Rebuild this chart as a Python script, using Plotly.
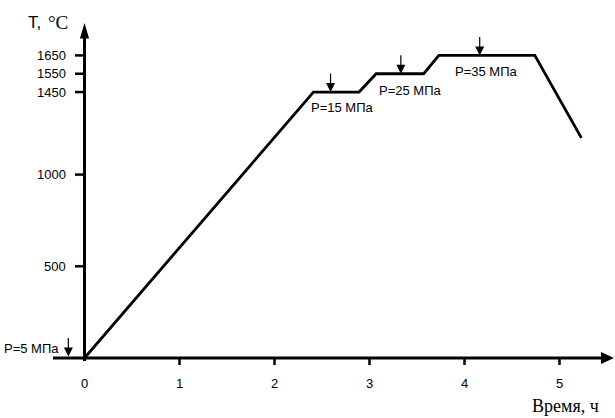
import plotly.graph_objects as go

# Heating schedule: time (h) vs temperature (°C)
time_h = [0, 2.41, 2.89, 3.07, 3.57, 3.73, 4.74, 5.23]
temp_c = [0, 1450, 1450, 1550, 1550, 1650, 1650, 1200]

# Pressure application points (arrow tips on the curve)
press_t = [-0.17, 2.59, 3.33, 4.16]
press_T = [0, 1450, 1550, 1650]
press_lbl = ["P=5 МПа", "P=15 МПа", "P=25 МПа", "P=35 МПа"]
# label anchor positions (time, temperature) for the pressure notes
lbl_t = [-0.245, 2.72, 3.43, 4.23]
lbl_T = [50, 1368, 1460, 1560]

x_ticks = [0, 1, 2, 3, 4, 5]
y_ticks = [500, 1000, 1450, 1550, 1650]

SANS = "Liberation Sans, Arial, sans-serif"
SERIF = "Liberation Serif, Times New Roman, serif"

# axis scale: 95 px per hour, 0.1834 px per °C (615x418 canvas)
PX_T = 95.0
PX_C = 0.1834
X0, Y0 = 84.5, 358.0
xr = [-X0 / PX_T, (615 - X0) / PX_T]
yr = [-(418 - Y0) / PX_C, Y0 / PX_C]

def dx(px):
    return px / PX_T

def dy(px):
    return px / PX_C

fig = go.Figure()

fig.add_trace(go.Scatter(x=time_h, y=temp_c, mode="lines",
                         line=dict(color="black", width=2.8),
                         hoverinfo="skip", showlegend=False))

shapes = []
# horizontal axis with arrow
x_left = -dx(X0 - 53)
x_tip = dx(614 - X0)
x_base = dx(601 - X0)
shapes.append(dict(type="line", x0=x_left, x1=x_base + dx(1), y0=0, y1=0,
                   line=dict(color="black", width=3)))
shapes.append(dict(type="path",
                   path=f"M {x_base},{dy(6)} L {x_tip},0 L {x_base},{-dy(6)} Z",
                   fillcolor="black", line=dict(color="black", width=0)))
# vertical axis with arrow
y_tip = dy(Y0 - 23)
y_base = dy(Y0 - 38.5)
shapes.append(dict(type="line", x0=0, x1=0, y0=-dy(3), y1=y_base + dy(1),
                   line=dict(color="black", width=3)))
shapes.append(dict(type="path",
                   path=f"M {-dx(4.6)},{y_base} L 0,{y_tip} L {dx(4.6)},{y_base} Z",
                   fillcolor="black", line=dict(color="black", width=0)))
# tick marks
for t in x_ticks[1:]:
    shapes.append(dict(type="line", x0=t, x1=t, y0=0, y1=-dy(7),
                       line=dict(color="black", width=2.5)))
for v in y_ticks:
    shapes.append(dict(type="line", x0=-dx(9.5), x1=0, y0=v, y1=v,
                       line=dict(color="black", width=2.5)))

annotations = []
for t in x_ticks:
    annotations.append(dict(x=t, y=-dy(25), text=str(t), showarrow=False,
                            xanchor="center", yanchor="middle",
                            font=dict(family=SANS, size=13, color="black")))
for v in y_ticks:
    annotations.append(dict(x=-dx(17), y=v, text=str(v), showarrow=False,
                            xanchor="right", yanchor="middle",
                            font=dict(family=SANS, size=13, color="black")))

# pressure arrows and labels
for t, T in zip(press_t, press_T):
    annotations.append(dict(x=t, y=T + (dy(1.5) if T == 0 else 0), ax=0, ay=-20,
                            text="", showarrow=True, arrowhead=2,
                            arrowsize=1.5, arrowwidth=1.2, arrowcolor="black"))
for i, (t, T, s) in enumerate(zip(lbl_t, lbl_T, press_lbl)):
    annotations.append(dict(x=t, y=T, text=s, showarrow=False,
                            xanchor="right" if i == 0 else "center",
                            yanchor="middle",
                            font=dict(family=SANS, size=13, color="black")))

# axis titles
annotations.append(dict(x=-dx(X0 - 25.5), y=dy(Y0 - 22), text="T,", showarrow=False,
                        xanchor="left", yanchor="middle",
                        font=dict(family=SANS, size=17, color="black")))
annotations.append(dict(x=-dx(X0 - 45.5), y=dy(Y0 - 22), text="°C", showarrow=False,
                        xanchor="left", yanchor="middle",
                        font=dict(family=SERIF, size=19, color="black")))
annotations.append(dict(x=dx(531 - X0), y=-dy(406 - Y0), text="Время, ч",
                        showarrow=False, xanchor="left", yanchor="middle",
                        borderpad=0,
                        font=dict(family=SERIF, size=18, color="black")))

fig.update_layout(
    width=615, height=418,
    margin=dict(l=0, r=0, t=0, b=0),
    paper_bgcolor="white", plot_bgcolor="white",
    xaxis=dict(range=xr, visible=False, fixedrange=True),
    yaxis=dict(range=yr, visible=False, fixedrange=True),
    shapes=shapes, annotations=annotations,
    showlegend=False,
)

fig.write_html("out.html")
